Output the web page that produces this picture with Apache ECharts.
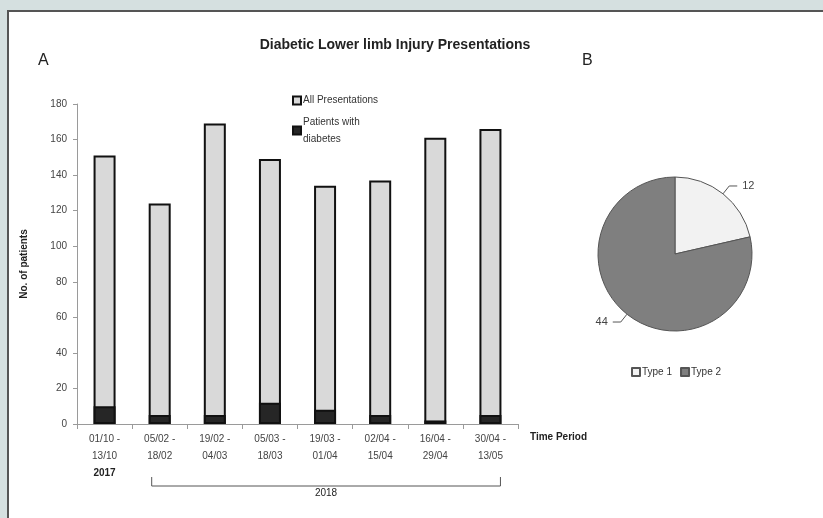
<!DOCTYPE html>
<html>
<head>
<meta charset="utf-8">
<script src="https://cdn.jsdelivr.net/npm/echarts@6/dist/echarts.min.js"></script>
<style>
  html, body { margin: 0; padding: 0; }
  #main { width: 823px; height: 518px; }
</style>
</head>
<body>
<div id="main"></div>
<script>
// time periods (x axis)
var periods = ['01/10 -\n13/10', '05/02 -\n18/02', '19/02 -\n04/03', '05/03 -\n18/03',
  '19/03 -\n01/04', '02/04 -\n15/04', '16/04 -\n29/04', '30/04 -\n13/05'];
var allPresentations = [151, 124, 169, 149, 134, 137, 161, 166];
var withDiabetes = [10, 5, 5, 12, 8, 5, 2, 5];
var yTicks = [0, 20, 40, 60, 80, 100, 120, 140, 160, 180];

// pie B
var diabetesTypes = ['Type 1', 'Type 2'];
var typeCounts = [12, 44];

var chart = echarts.init(document.getElementById('main'));
var textFont = 'Liberation Sans';

var option = {
  backgroundColor: '#d5e0e0',
  animation: false,
  title: {
    text: 'Diabetic Lower limb Injury Presentations',
    left: 390, top: 33, textAlign: 'center',
    textStyle: { fontFamily: textFont, fontSize: 14, fontWeight: 'bold', color: '#222' }
  },
  legend: [{
    orient: 'vertical',
    left: 287, top: 87,
    icon: 'rect',
    itemWidth: 8, itemHeight: 8, itemGap: 8,
    data: ['All Presentations', {
      name: 'Patients with diabetes',
      textStyle: { padding: [0, 0, -17, -3] }
    }],
    formatter: function (name) {
      return name === 'Patients with diabetes' ? 'Patients with\ndiabetes' : name;
    },
    textStyle: { fontFamily: textFont, fontSize: 10, color: '#333', lineHeight: 17, padding: [0, 0, 0, -3] }
  }, {
    orient: 'horizontal',
    left: 626, top: 362,
    icon: 'rect',
    itemWidth: 8, itemHeight: 8, itemGap: 8,
    data: diabetesTypes,
    textStyle: { fontFamily: textFont, fontSize: 10, color: '#333', padding: [0, 0, 0, -3] }
  }],
  grid: { left: 77, right: 305, top: 104, bottom: 94 },
  xAxis: {
    type: 'category',
    data: periods,
    name: 'Time Period',
    nameLocation: 'end',
    nameGap: 12,
    nameTextStyle: { fontFamily: textFont, fontSize: 10, fontWeight: 'bold', color: '#222',
      align: 'left', verticalAlign: 'top', padding: [8, 0, 0, 0] },
    axisLine: { lineStyle: { color: '#9a9a9a', width: 1 } },
    axisTick: { show: true, length: 5, lineStyle: { color: '#9a9a9a' } },
    axisLabel: { fontFamily: textFont, fontSize: 10, color: '#444', lineHeight: 17, margin: 7 }
  },
  yAxis: {
    type: 'value',
    min: yTicks[0], max: yTicks[yTicks.length - 1], interval: 20,
    name: 'No. of patients',
    nameLocation: 'middle',
    nameGap: 48,
    nameTextStyle: { fontFamily: textFont, fontSize: 10, fontWeight: 'bold', color: '#222' },
    axisLine: { show: true, lineStyle: { color: '#9a9a9a' } },
    axisTick: { show: true, length: 4, lineStyle: { color: '#9a9a9a' } },
    axisLabel: { fontFamily: textFont, fontSize: 10, color: '#444', margin: 10 },
    splitLine: { show: false }
  },
  series: [{
    name: 'All Presentations',
    type: 'bar',
    data: allPresentations,
    barWidth: 22,
    itemStyle: { color: '#d9d9d9', borderColor: '#111', borderWidth: 2 }
  }, {
    name: 'Patients with diabetes',
    type: 'bar',
    data: withDiabetes,
    barWidth: 22,
    barGap: '-100%',
    itemStyle: { color: '#262626', borderColor: '#111', borderWidth: 2 }
  }, {
    name: 'Diabetes type',
    type: 'pie',
    center: [675, 254],
    radius: 77,
    startAngle: 90,
    clockwise: true,
    data: diabetesTypes.map(function (t, i) {
      return { name: t, value: typeCounts[i] };
    }),
    color: ['#f2f2f2', '#7f7f7f'],
    itemStyle: { borderColor: '#555', borderWidth: 1 },
    label: { show: true, formatter: '{c}', fontFamily: textFont, fontSize: 11, color: '#444' },
    labelLine: { show: true, length: 10, length2: 8, lineStyle: { color: '#555', width: 1 } }
  }],
  graphic: [{
    type: 'rect', z: -10, silent: true,
    shape: { x: 8, y: 11, width: 830, height: 520 },
    style: { fill: '#fff', stroke: '#555', lineWidth: 2 }
  }, {
    type: 'text', left: 38, top: 53,
    style: { text: 'A', fontFamily: textFont, fontSize: 16, fill: '#222' }
  }, {
    type: 'text', left: 582, top: 53,
    style: { text: 'B', fontFamily: textFont, fontSize: 16, fill: '#222' }
  }]
};
chart.setOption(option);

// year annotations below the category labels, placed from the axis scale
var first = chart.convertToPixel({ xAxisIndex: 0 }, periods[0]);
var second = chart.convertToPixel({ xAxisIndex: 0 }, periods[1]);
var last = chart.convertToPixel({ xAxisIndex: 0 }, periods[periods.length - 1]);
var baseY = chart.convertToPixel({ yAxisIndex: 0 }, 0);
var bx1 = second - 8, bx2 = last + 10;
var by = baseY + 62;
chart.setOption({
  graphic: option.graphic.concat([{
    type: 'text', x: first, y: baseY + 44,
    style: { text: '2017', fontFamily: textFont, fontSize: 10, fontWeight: 'bold', fill: '#222', align: 'center' }
  }, {
    type: 'polyline', silent: true,
    shape: { points: [[bx1, by - 9], [bx1, by], [bx2, by], [bx2, by - 9]] },
    style: { stroke: '#555', lineWidth: 1, fill: null }
  }, {
    type: 'text', x: (bx1 + bx2) / 2, y: by + 2,
    style: { text: '2018', fontFamily: textFont, fontSize: 10, fill: '#222', align: 'center' }
  }])
});
</script>
</body>
</html>
